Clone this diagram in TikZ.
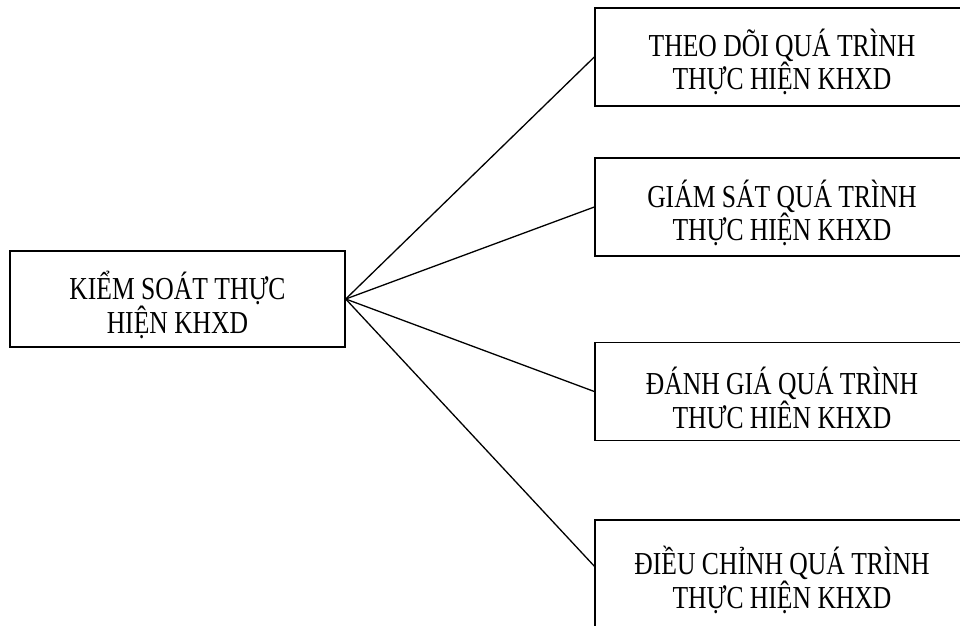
\documentclass[tikz,border=0pt]{standalone}
\usepackage{fontspec}
\setmainfont{Liberation Serif}[FakeStretch=0.8]
\begin{document}
\begin{tikzpicture}[x=1pt,y=-1pt,
  box/.style={draw, line width=1.4pt, rectangle, inner sep=0pt},
  rbox/.style={box, minimum width=374pt, minimum height=98pt},
  txt/.style={align=center, inner sep=0pt, font=\fontsize{32}{31}\selectfont},
  link/.style={line width=1.3pt}]
\useasboundingbox (0,0) rectangle (960,625);
\clip (0,0) rectangle (960,625);
\node[box, minimum width=335pt, minimum height=96pt] (root) at (177.5,299) {};
\node[txt] (t0) at (177.5,305) {KIỂM SOÁT THỰC\\HIỆN KHXD};
\node[rbox] (b1) at (782,57) {};
\node[txt] (t1) at (782,62) {THEO DÕI QUÁ TRÌNH\\THỰC HIỆN KHXD};
\node[rbox] (b2) at (782,207) {};
\node[txt] (t2) at (782,213) {GIÁM SÁT QUÁ TRÌNH\\THỰC HIỆN KHXD};
\node[rbox] (b3) at (782,391.5) {};
\node[txt] (t3) at (782,398) {ĐÁNH GIÁ QUÁ TRÌNH\\THƯC HIÊN KHXD};
\node[rbox, minimum height=112pt] (b4) at (782,576) {};
\node[txt] (t4) at (782,580) {ĐIỀU CHỈNH QUÁ TRÌNH\\THỰC HIỆN KHXD};
\draw[link] (root.east) -- (b1.west);
\draw[link] (root.east) -- (b2.west);
\draw[link] (root.east) -- (b3.west);
\draw[link] (root.east) -- (b4.177);
\end{tikzpicture}
\end{document}
